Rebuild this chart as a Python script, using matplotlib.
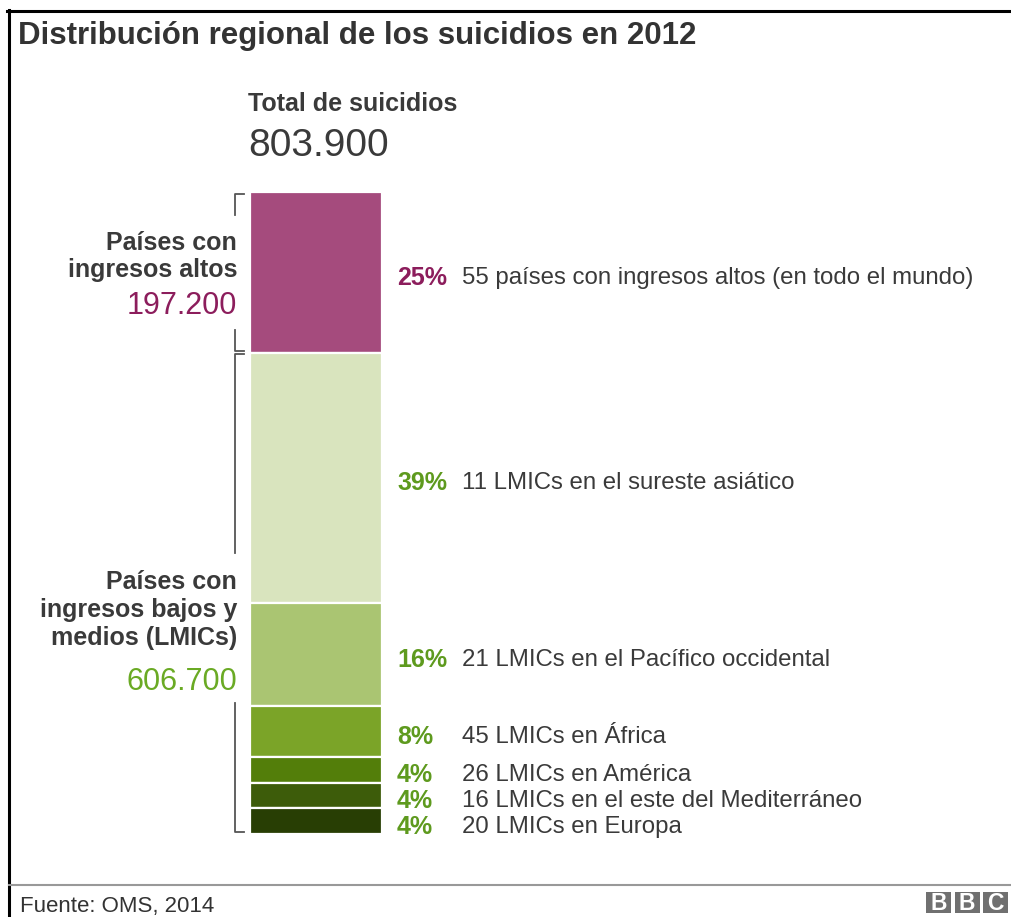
import numpy as np
import matplotlib.pyplot as plt
from matplotlib.lines import Line2D
from matplotlib.patches import Rectangle
from matplotlib.transforms import blended_transform_factory, ScaledTranslation

plt.rcParams['font.family'] = ['Liberation Sans', 'DejaVu Sans']

# data
pcts = [25, 39, 16, 8, 4, 4, 4]
descriptions = [
    "55 países con ingresos altos (en todo el mundo)",
    "11 LMICs en el sureste asiático",
    "21 LMICs en el Pacífico occidental",
    "45 LMICs en África",
    "26 LMICs en América",
    "16 LMICs en el este del Mediterráneo",
    "20 LMICs en Europa",
]
total = "803.900"
group_names = [["Países con", "ingresos altos"],
               ["Países con", "ingresos bajos y", "medios (LMICs)"]]
group_totals = ["197.200", "606.700"]
group_sizes = [1, 6]  # segments per group

bar_colors = ["#a54b7d", "#d9e4be", "#aac572", "#7ba428", "#537e0a", "#3d5c0a", "#283e04"]
pct_colors = ["#8c1d5c"] + ["#5e9a1e"] * 6
group_colors = ["#8c1d5c", "#6aaa24"]
text_dark = "#3a3a3a"

W, H = 1011, 917
fig = plt.figure(figsize=(W / 100, H / 100), dpi=100)


def fx(x):
    return x / W


def fy(y):
    return 1 - y / H


# stacked bar
ax = fig.add_axes([fx(250), fy(834), fx(382) - fx(250), fy(192) - fy(834)])
bottoms = np.concatenate([[0], np.cumsum(pcts)[:-1]])
ax.bar(np.zeros(len(pcts)), pcts, bottom=bottoms, width=1, color=bar_colors,
       edgecolor="white", linewidth=1.6)
ax.set_xlim(-0.5, 0.5)
ax.set_ylim(sum(pcts), 0)
ax.axis("off")

tr = blended_transform_factory(fig.transFigure, ax.transData)
# labels sit a few pixels below the segment middle
tr_lab = tr + ScaledTranslation(0, -3 / 100, fig.dpi_scale_trans)
mids = bottoms + np.array(pcts) / 2
for i, (p, d) in enumerate(zip(pcts, descriptions)):
    ax.text(fx(397), mids[i], f"{p}%", transform=tr_lab, ha="left", va="center_baseline",
            fontsize=18, fontweight="bold", color=pct_colors[i])
    ax.text(fx(462), mids[i], d, transform=tr_lab, ha="left", va="center_baseline",
            fontsize=17.3, color=text_dark)

# brackets, broken where the group labels sit (gap in data units)
gaps = [(3.6, 21.5), (56.2, 79.6)]
bx, btick = fx(235), fx(244)
kw = dict(transform=tr, color="#555555", lw=1.3, clip_on=False)
start = 0
for g in range(2):
    end = start + sum(pcts[sum(group_sizes[:g]):sum(group_sizes[:g + 1])])
    y0, y1 = start + 0.25, end - 0.25
    ax.plot([btick, bx, bx], [y0, y0, gaps[g][0]], **kw)
    ax.plot([bx, bx, btick], [gaps[g][1], y1, y1], **kw)
    start = end

# left group labels
name_baselines = [[250, 277], [589, 617, 645]]
total_baselines = [314, 690]
for g in range(2):
    for line, yb in zip(group_names[g], name_baselines[g]):
        fig.text(fx(237), fy(yb), line, ha="right", va="baseline",
                 fontsize=18, fontweight="bold", color=text_dark)
    fig.text(fx(237), fy(total_baselines[g]), group_totals[g], ha="right", va="baseline",
             fontsize=22, color=group_colors[g])

# header
fig.text(fx(18), fy(44), "Distribución regional de los suicidios en 2012", ha="left", va="baseline",
         fontsize=22.5, fontweight="bold", color="#333333")
fig.text(fx(248), fy(111), "Total de suicidios", ha="left", va="baseline",
         fontsize=18, fontweight="bold", color=text_dark)
fig.text(fx(248), fy(156), total, ha="left", va="baseline", fontsize=28, color=text_dark)

# frame
fig.add_artist(Line2D([fx(7), 1], [fy(10.5), fy(10.5)], color="black", lw=2.2))
fig.add_artist(Line2D([fx(8.5), fx(8.5)], [0, fy(9.5)], color="black", lw=2.2))

# footer
fig.add_artist(Line2D([fx(9), 1], [fy(885), fy(885)], color="#999999", lw=1.5))
fig.text(fx(20), fy(912), "Fuente: OMS, 2014", ha="left", va="baseline", fontsize=16, color="#333333")
for k, letter in enumerate("BBC"):
    x0 = 926 + k * 28.5
    fig.add_artist(Rectangle((fx(x0), fy(913)), fx(25), fy(892) - fy(913),
                             transform=fig.transFigure, color="#707070", lw=0))
    fig.text(fx(x0 + 12.5), fy(903), letter, ha="center", va="center", fontsize=16.5,
             fontweight="bold", color="white")

fig.savefig("out.png", dpi=100)
